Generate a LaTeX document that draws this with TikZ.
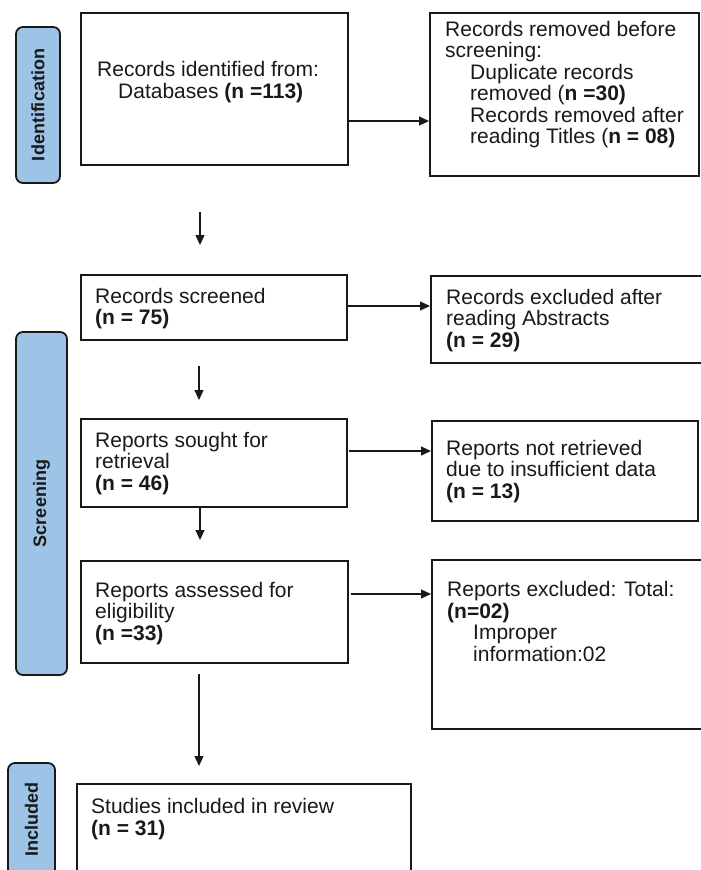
\documentclass[tikz,border=0pt]{standalone}
\usepackage{fontspec}
\setmainfont{Liberation Sans}
\usetikzlibrary{arrows.meta}
\definecolor{labfill}{RGB}{157,195,230}
\definecolor{ink}{RGB}{25,25,25}
\begin{document}
\begin{tikzpicture}[x=1pt,y=-1pt,
  box/.style={draw=ink, line width=1.6pt, rectangle, inner sep=0pt, anchor=north west},
  lab/.style={draw=ink, fill=labfill, line width=1.8pt, rounded corners=7pt, rotate=90, inner sep=0pt, font=\fontsize{18}{20}\selectfont\bfseries, text=ink},
  txt/.style={anchor=base west, align=left, inner sep=0pt, font=\fontsize{21}{21.5}\selectfont, text=ink},
  arr/.style={draw=ink, line width=1.3pt, -{Triangle[length=10pt,width=9pt]}}]
\useasboundingbox (0,0) rectangle (701,870);
\clip (0,0) rectangle (701,870);

% phase labels
\node[lab, minimum width=156, minimum height=44] (l1) at (38,105) {Identification};
\node[lab, minimum width=343, minimum height=51] (l2) at (41.5,503.5) {Screening};
\node[lab, minimum width=113, minimum height=47] (l3) at (31.5,819.5) {Included};

% boxes
\node[box, minimum width=267, minimum height=152] (b1) at (80,12) {};
\node[box, minimum width=269, minimum height=163] (b2) at (429,12) {};
\node[box, minimum width=266, minimum height=65] (b3) at (80,274) {};
\node[box, minimum width=285, minimum height=87] (b4) at (430,275) {};
\node[box, minimum width=266, minimum height=88] (b5) at (80,418) {};
\node[box, minimum width=266, minimum height=100] (b6) at (431,420) {};
\node[box, minimum width=267, minimum height=102] (b7) at (80,560) {};
\node[box, minimum width=285, minimum height=169] (b8) at (431,559) {};
\node[box, minimum width=334, minimum height=110] (b9) at (76,783) {};

% texts (anchored at the baseline of their last line)
\node[txt] (t1) at (97,98) {Records identified from:\\\hspace*{21pt}Databases \textbf{(n =113)}};
\node[txt] (t2) at (445,143.5) {Records removed before\\screening:\\\hspace*{25pt}Duplicate records\\\hspace*{25pt}removed (\textbf{n =30)}\\\hspace*{25pt}Records removed after\\\hspace*{25pt}reading Titles (\textbf{n = 08)}};
\node[txt] (t3) at (95,324.5) {Records screened\\\textbf{(n = 75)}};
\node[txt] (t4) at (446,347) {Records excluded after\\reading Abstracts\\\textbf{(n = 29)}};
\node[txt] (t5) at (95,490) {Reports sought for\\retrieval\\\textbf{(n = 46)}};
\node[txt] (t6) at (446,498) {Reports not retrieved\\due to insufficient data\\\textbf{(n = 13)}};
\node[txt] (t7) at (95,640) {Reports assessed for\\eligibility\\\textbf{(n =33)}};
\node[txt] (t8) at (447,661) {Reports excluded: Total:\\\textbf{(n=02)}\\\hspace*{26pt}Improper\\\hspace*{26pt}information:02};
\node[txt] (t9) at (91,835) {Studies included in review\\\textbf{(n = 31)}};

% horizontal connectors
\coordinate (h1) at (0,121);
\coordinate (h2) at (0,306);
\coordinate (h3s) at (349,451);
\coordinate (h4s) at (351,594);
\draw[arr] (b1.east |- h1) -- (b2.west |- h1);
\draw[arr] (b3.east |- h2) -- (b4.west |- h2);
\draw[arr] (h3s) -- (b6.west |- h3s);
\draw[arr] (h4s) -- (b8.west |- h4s);

% vertical connectors
\coordinate (d1a) at (200,212);
\coordinate (d1b) at (200,245);
\coordinate (d2a) at (199,366);
\coordinate (d2b) at (199,400);
\coordinate (d3b) at (200,540);
\coordinate (d4a) at (199,674);
\coordinate (d4b) at (199,766);
\draw[arr] (d1a) -- (d1b);
\draw[arr] (d2a) -- (d2b);
\draw[arr] (b5.south -| d3b) -- (d3b);
\draw[arr] (d4a) -- (d4b);
\end{tikzpicture}
\end{document}
